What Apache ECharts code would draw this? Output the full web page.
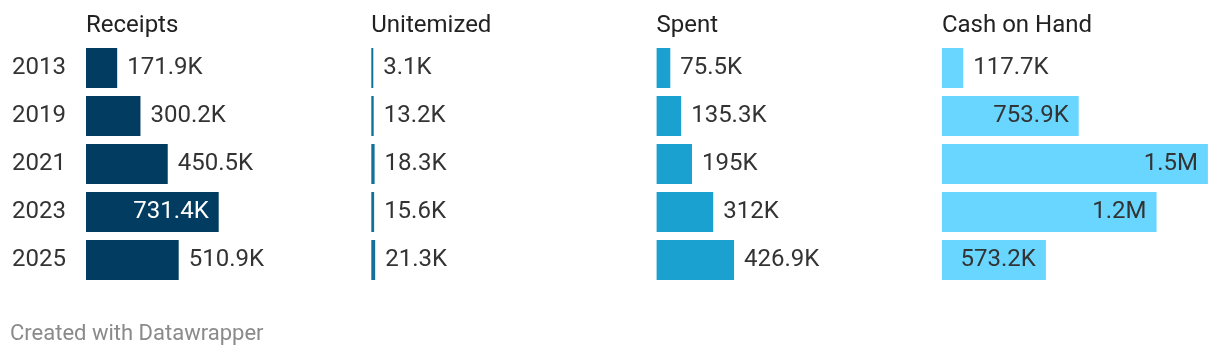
<!DOCTYPE html>
<html><head><meta charset="utf-8">
<script src="https://cdn.jsdelivr.net/npm/echarts@6/dist/echarts.min.js"></script>
<style>html,body{margin:0;padding:0;background:#fff}#c{width:1220px;height:356px}</style>
</head><body><div id="c"></div>
<script>
const years = ['2013','2019','2021','2023','2025'];
const columns = ['Receipts','Unitemized','Spent','Cash on Hand'];
// values in thousands of dollars
const receipts = [171.9, 300.2, 450.5, 731.4, 510.9];
const unitemized = [3.1, 13.2, 18.3, 15.6, 21.3];
const spent = [75.5, 135.3, 195, 312, 426.9];
const cashOnHand = [117.7, 753.9, 1466, 1183, 573.2];
const seriesValues = [receipts, unitemized, spent, cashOnHand];
const colors = ['#023d61', '#11719a', '#1aa1cf', '#68d6ff'];
const insideText = ['#ffffff', '#ffffff', '#ffffff', '#333333'];

const globalMax = Math.max(...seriesValues.flat());
function fmt(v){
  if (v >= 1000) return (Math.round(v/100)/10) + 'M';
  return (Math.round(v*10)/10) + 'K';
}
const FONT = 'Roboto';
const FS = 24;
const left0 = 86, step = 285.3, gw = 266, gTop = 44, gh = 240;
const grids = [], xAxes = [], yAxes = [], series = [], titles = [];
columns.forEach((name, i) => {
  const l = left0 + i*step;
  grids.push({left: l, top: gTop, width: gw, height: gh});
  xAxes.push({type:'value', gridIndex:i, min:0, max:globalMax, show:false});
  yAxes.push({type:'category', gridIndex:i, data:years, inverse:true,
    axisLine:{show:false}, axisTick:{show:false}, splitLine:{show:false},
    axisLabel:{show:i===0, margin:20, fontFamily:FONT, fontSize:FS, color:'#333', align:'right'}});
  titles.push({text:name, left:l-5, top:9, textStyle:{fontFamily:FONT, fontSize:FS, fontWeight:'normal', color:'#222'}});
  series.push({type:'bar', xAxisIndex:i, yAxisIndex:i, barWidth:40, barMinHeight:2,
    itemStyle:{color:colors[i]}, silent:true,
    data: seriesValues[i].map(v => {
      const inside = v > 0.37*globalMax && v > 540;
      return {value:v, label:{show:true, position: inside?'insideRight':'right', distance:10,
        color: inside?insideText[i]:'#333', fontFamily:FONT, fontSize:FS, formatter:()=>fmt(v)}};
    })});
});
titles.push({text:'Created with Datawrapper', left:5, top:318, textStyle:{fontFamily:FONT, fontSize:22, fontWeight:'normal', color:'#8a8a8a'}});
const chart = echarts.init(document.getElementById('c'), null, {renderer:'canvas'});
chart.setOption({animation:false, backgroundColor:'#fff', title:titles, grid:grids, xAxis:xAxes, yAxis:yAxes, series:series});
</script></body></html>
